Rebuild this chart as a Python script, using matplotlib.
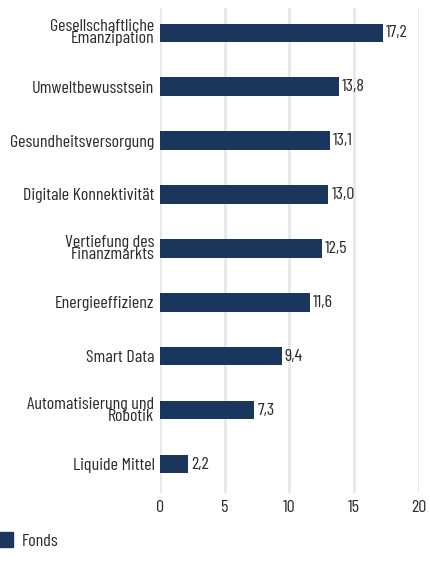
import matplotlib.pyplot as plt
from matplotlib.patches import Patch

plt.rcParams['font.family'] = ['Barlow Condensed', 'Roboto Condensed', 'DejaVu Sans']
plt.rcParams['font.weight'] = 'normal'

categories = ['Gesellschaftliche\nEmanzipation', 'Umweltbewusstsein', 'Gesundheitsversorgung',
              'Digitale Konnektivität', 'Vertiefung des\nFinanzmarkts', 'Energieeffizienz',
              'Smart Data', 'Automatisierung und\nRobotik', 'Liquide Mittel']
values = [17.2, 13.8, 13.1, 13.0, 12.5, 11.6, 9.4, 7.3, 2.2]
series_name = 'Fonds'

bar_color = '#1b365d'
text_color = '#2b2b2b'
fs = 13

fig = plt.figure(figsize=(4.3, 5.65), dpi=100)
ax = fig.add_axes([0.372, 0.127, 0.602, 0.859])

pos = list(range(len(categories)))
bars = ax.barh(pos, values, height=0.34, color=bar_color, zorder=3)
for b, v in zip(bars, values):
    ax.text(b.get_width() + 0.25, b.get_y() + b.get_height() / 2, f'{v:.1f}'.replace('.', ','),
            va='center', ha='left', fontsize=fs, color=text_color)

ax.set_ylim(len(categories) - 0.46, -0.46)
ax.set_xlim(0, 20)
ax.set_xticks([0, 5, 10, 15, 20])
ax.set_yticks(pos)
ax.set_yticklabels(categories, fontsize=fs, color=text_color, linespacing=0.75)
ax.tick_params(axis='x', labelsize=fs, labelcolor=text_color, length=0, pad=5)
ax.tick_params(axis='y', length=0, pad=4)
ax.grid(axis='x', color='#e8e8e8', linewidth=2, zorder=0)
for s in ax.spines.values():
    s.set_visible(False)

fig.legend(handles=[Patch(color=bar_color, label=series_name)], loc='lower left',
           bbox_to_anchor=(-0.04, 0.0), frameon=False, fontsize=fs, handlelength=0.8,
           handleheight=0.85, handletextpad=0.45, labelcolor=text_color)

fig.savefig('out.png', dpi=100)
